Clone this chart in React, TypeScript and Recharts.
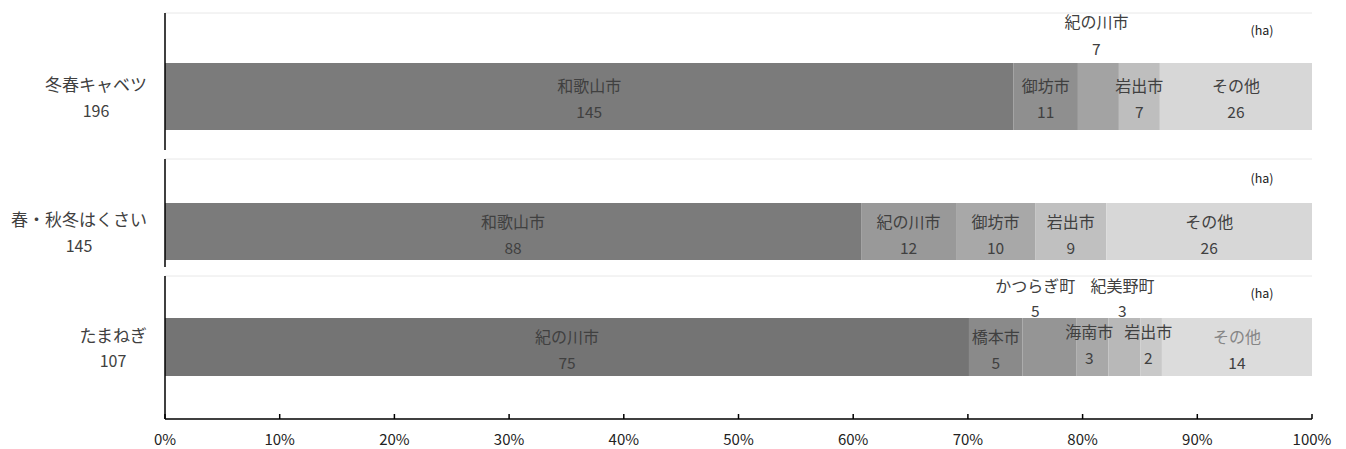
import React from "react";
import { BarChart, Bar, XAxis, YAxis, CartesianGrid, LabelList } from "recharts";

// 作付面積 (ha)
const cropNames = ["冬春キャベツ", "春・秋冬はくさい", "たまねぎ"];
const cropTotals = [196, 145, 107];

const cabbageCities = ["和歌山市", "御坊市", "紀の川市", "岩出市", "その他"];
const cabbageArea = [145, 11, 7, 7, 26];

const hakusaiCities = ["和歌山市", "紀の川市", "御坊市", "岩出市", "その他"];
const hakusaiArea = [88, 12, 10, 9, 26];

const onionCities = ["紀の川市", "橋本市", "かつらぎ町", "海南市", "紀美野町", "岩出市", "その他"];
const onionArea = [75, 5, 5, 3, 3, 2, 14];

const xTicks = [0, 10, 20, 30, 40, 50, 60, 70, 80, 90, 100];

const rows = [
  { crop: cropNames[0], total: cropTotals[0], cities: cabbageCities, area: cabbageArea },
  { crop: cropNames[1], total: cropTotals[1], cities: hakusaiCities, area: hakusaiArea },
  { crop: cropNames[2], total: cropTotals[2], cities: onionCities, area: onionArea },
];

// styles / layout (separate from data)
const FONT = '"Noto Sans CJK JP", "Noto Sans", sans-serif';
const TEXT = "#404040";

const rowColors = [
  ["#7b7b7b", "#8f8f8f", "#a3a3a3", "#bebebe", "#d7d7d7"],
  ["#7b7b7b", "#999999", "#a8a8a8", "#c0c0c0", "#d7d7d7"],
  ["#747474", "#8a8a8a", "#959595", "#a8a8a8", "#b8b8b8", "#c9c9c9", "#dcdcdc"],
];

// [dx, name dy, value dy] relative to segment centre
const labelPos: Record<number, [number, number, number]>[] = [
  { 2: [-2, -76, -49] },
  {},
  { 2: [-14, -62, -37], 3: [-3, -16, 10], 4: [-2, -62, -37], 5: [-3, -16, 10] },
];
const defaultPos: [number, number, number][] = [
  [0, -12, 14],
  [0, -11, 15],
  [0, -11, 15],
];
const haDy = [-67, -54, -55];
const nameColor: Record<string, string> = { "2-6": "#858585" };

const chartLayout = [
  { top: 0, height: 155, mTop: 13, mBottom: 5, padTop: 40, padBottom: 10, barSize: 67, axis: false },
  { top: 155, height: 117, mTop: 4, mBottom: 5, padTop: 40, padBottom: 3, barSize: 57, axis: false },
  { top: 272, height: 177, mTop: 4, mBottom: 0, padTop: 0, padBottom: 1, barSize: 58, axis: true },
];

function CropTick(props: any) {
  const { x, y, payload } = props;
  const row = rows.find((r) => r.crop === payload.value)!;
  const w = row.crop.length * 17;
  return (
    <g>
      <text x={x} y={y - 13} textAnchor="end" dominantBaseline="central" fill={TEXT} fontSize={17} fontFamily={FONT}>
        {row.crop}
      </text>
      <text x={x - w / 2} y={y + 13} textAnchor="middle" dominantBaseline="central" fill={TEXT} fontSize={16} fontFamily={FONT}>
        {row.total}
      </text>
    </g>
  );
}

// all labels drawn from the last segment so they sit on top of every bar
function renderLabels(p: any, r: number) {
  const vb = p.viewBox && p.viewBox.width !== undefined ? p.viewBox : p;
  const x = Number(vb.x), y = Number(vb.y), width = Number(vb.width), height = Number(vb.height);
  const row = rows[r];
  const sum = row.area.reduce((a, b) => a + b, 0);
  const last = row.area[row.area.length - 1];
  const before = (sum - last) / sum;
  const W = width / (1 - before);
  const left = x - before * W;
  const cy = y + height / 2;
  let acc = 0;
  return (
    <g>
      {row.area.map((v, i) => {
        const cx = left + ((acc + v / 2) / sum) * W;
        acc += v;
        const [dx, nDy, vDy] = labelPos[r][i] ?? defaultPos[r];
        return (
          <g key={i}>
            <text x={cx + dx} y={cy + nDy} textAnchor="middle" dominantBaseline="central" fill={nameColor[`${r}-${i}`] ?? TEXT} fontSize={16} fontFamily={FONT}>
              {row.cities[i]}
            </text>
            <text x={cx + dx} y={cy + vDy} textAnchor="middle" dominantBaseline="central" fill={TEXT} fontSize={15.5} fontFamily={FONT}>
              {v}
            </text>
          </g>
        );
      })}
      <text x={left + W - 50} y={cy + haDy[r]} textAnchor="middle" dominantBaseline="central" fill="#222" fontSize={12.5} fontFamily={FONT}>
        (ha)
      </text>
    </g>
  );
}

function CropChart({ r }: { r: number }) {
  const row = rows[r];
  const L = chartLayout[r];
  const datum: Record<string, number | string> = { name: row.crop };
  row.area.forEach((v, i) => {
    datum[`s${i}`] = (v / row.total) * 100;
  });
  return (
    <div style={{ position: "absolute", left: 0, top: L.top }}>
      <BarChart
        width={1346}
        height={L.height}
        data={[datum]}
        layout="vertical"
        margin={{ top: L.mTop, right: 34, bottom: L.mBottom, left: 15 }}
      >
        <CartesianGrid
          vertical={false}
          stroke="#e8e8e8"
          horizontalCoordinatesGenerator={({ offset }: any) => [offset.top]}
        />
        <XAxis
          type="number"
          domain={[0, 100]}
          ticks={xTicks}
          hide={!L.axis}
          height={30}
          tickFormatter={(v) => `${v}%`}
          axisLine={{ stroke: "#000", strokeWidth: 1.5 }}
          tickLine={{ stroke: "#000", strokeWidth: 1.5 }}
          tickSize={-5}
          tickMargin={20}
          tick={{ fill: "#222", fontSize: 15, fontFamily: FONT }}
          interval={0}
        />
        <YAxis
          type="category"
          dataKey="name"
          width={150}
          padding={{ top: L.padTop, bottom: L.padBottom }}
          axisLine={{ stroke: "#000", strokeWidth: 1.5 }}
          tickLine={false}
          tickSize={0}
          tickMargin={18}
          tick={<CropTick />}
        />
        {row.area.map((_, i) => (
          <Bar
            key={i}
            dataKey={`s${i}`}
            stackId="a"
            fill={rowColors[r][i]}
            barSize={L.barSize}
            isAnimationActive={false}
          >
            {i === row.area.length - 1 && <LabelList content={(p: any) => renderLabels(p, r)} />}
          </Bar>
        ))}
      </BarChart>
    </div>
  );
}

export default function App() {
  return (
    <div style={{ position: "absolute", left: 0, top: 0, width: 1346, height: 449, background: "#fff", fontFamily: FONT }}>
      <CropChart r={0} />
      <CropChart r={1} />
      <CropChart r={2} />
    </div>
  );
}
